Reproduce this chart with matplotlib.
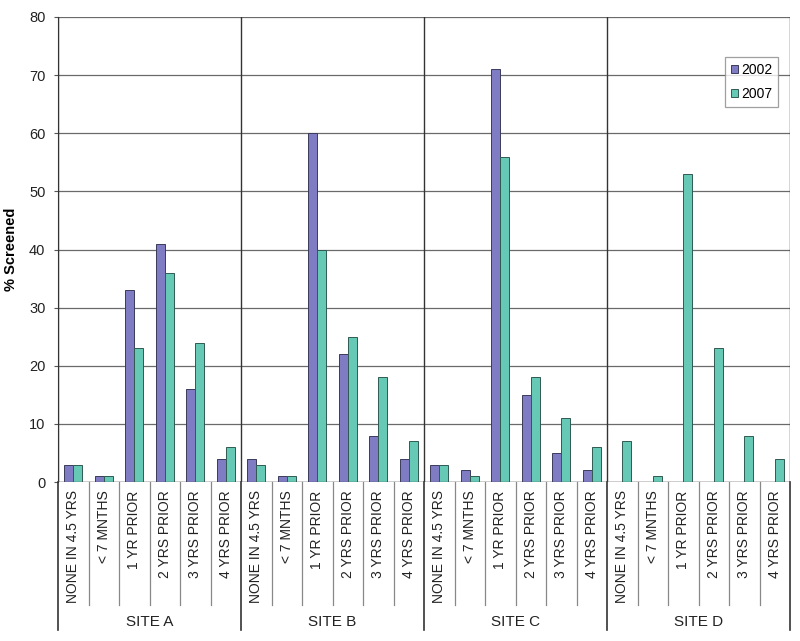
import matplotlib.pyplot as plt
import numpy as np

plt.rcParams["font.family"] = ["Liberation Sans", "DejaVu Sans"]

sites = ["SITE A", "SITE B", "SITE C", "SITE D"]
categories = ["NONE IN 4.5 YRS", "< 7 MNTHS", "1 YR PRIOR",
              "2 YRS PRIOR", "3 YRS PRIOR", "4 YRS PRIOR"]

# % screened, per site, per category
y2002 = [
    [3, 1, 33, 41, 16, 4],
    [4, 1, 60, 22, 8, 4],
    [3, 2, 71, 15, 5, 2],
    [0, 0, 0, 0, 0, 0],
]
y2007 = [
    [3, 1, 23, 36, 24, 6],
    [3, 1, 40, 25, 18, 7],
    [3, 1, 56, 18, 11, 6],
    [7, 1, 53, 23, 8, 4],
]

c2002 = "#7f7cc4"
c2007 = "#66c9b6"

fig = plt.figure(figsize=(8, 6.41), dpi=100)
ax = fig.add_axes([0.0725, 0.248, 0.915, 0.7255])

n = len(categories)
x = np.arange(len(sites) * n)
v02 = np.concatenate(y2002)
v07 = np.concatenate(y2007)
w = 0.3
ax.bar(x - w / 2, v02, w, color=c2002, edgecolor="#3a3a5a", linewidth=0.7,
       label="2002", zorder=3)
ax.bar(x + w / 2, v07, w, color=c2007, edgecolor="#2e5a52", linewidth=0.7,
       label="2007", zorder=3)

ax.set_xlim(-0.5, len(x) - 0.5)
ax.set_ylim(0, 80)
ax.set_yticks(range(0, 81, 10))
ax.yaxis.grid(True, color="#6a6a6a", linewidth=0.9)
ax.set_axisbelow(True)
ax.set_xticks([])
for s in ["top", "right", "bottom"]:
    ax.spines[s].set_visible(False)
ax.spines["left"].set_color("#333333")
ax.tick_params(axis="y", labelsize=10.5, length=3, pad=6, color="#555555",
               labelcolor="#222222")
ax.set_ylabel("% Screened", fontsize=10.5, fontweight="bold")
ax.yaxis.set_label_coords(-0.0546, 0.5)

# site separators in the plot
for k in range(len(sites) + 1):
    xs = k * n - 0.5
    ax.axvline(xs, color="#333333", linewidth=1.0, zorder=2)
    ax.plot([xs, xs], [0, -0.318], transform=ax.get_xaxis_transform(),
            color="#333333", linewidth=1.2, clip_on=False)
ax.axhline(0, color="#555555", linewidth=1.0, zorder=4)

# category labels and separators
for i in x:
    ax.text(i, -0.018, categories[i % n], rotation=90, ha="center", va="top",
            fontsize=10, color="#222222", transform=ax.get_xaxis_transform())
    if (i + 1) % n != 0:
        ax.plot([i + 0.5, i + 0.5], [0, -0.265], transform=ax.get_xaxis_transform(),
                color="#888888", linewidth=0.9, clip_on=False)

for k, s in enumerate(sites):
    ax.text(k * n + (n - 1) / 2, -0.3, s, ha="center", va="center",
            fontsize=11, color="#222222", transform=ax.get_xaxis_transform())

leg = ax.legend(loc="upper right", bbox_to_anchor=(0.984, 0.914), fontsize=10,
                frameon=True, fancybox=False, handlelength=0.5, handleheight=0.5,
                handletextpad=0.2, borderpad=0.45, labelspacing=0.7,
                borderaxespad=0)
leg.get_frame().set_edgecolor("#888888")
leg.get_frame().set_linewidth(0.9)

fig.savefig("out.png", dpi=100)
